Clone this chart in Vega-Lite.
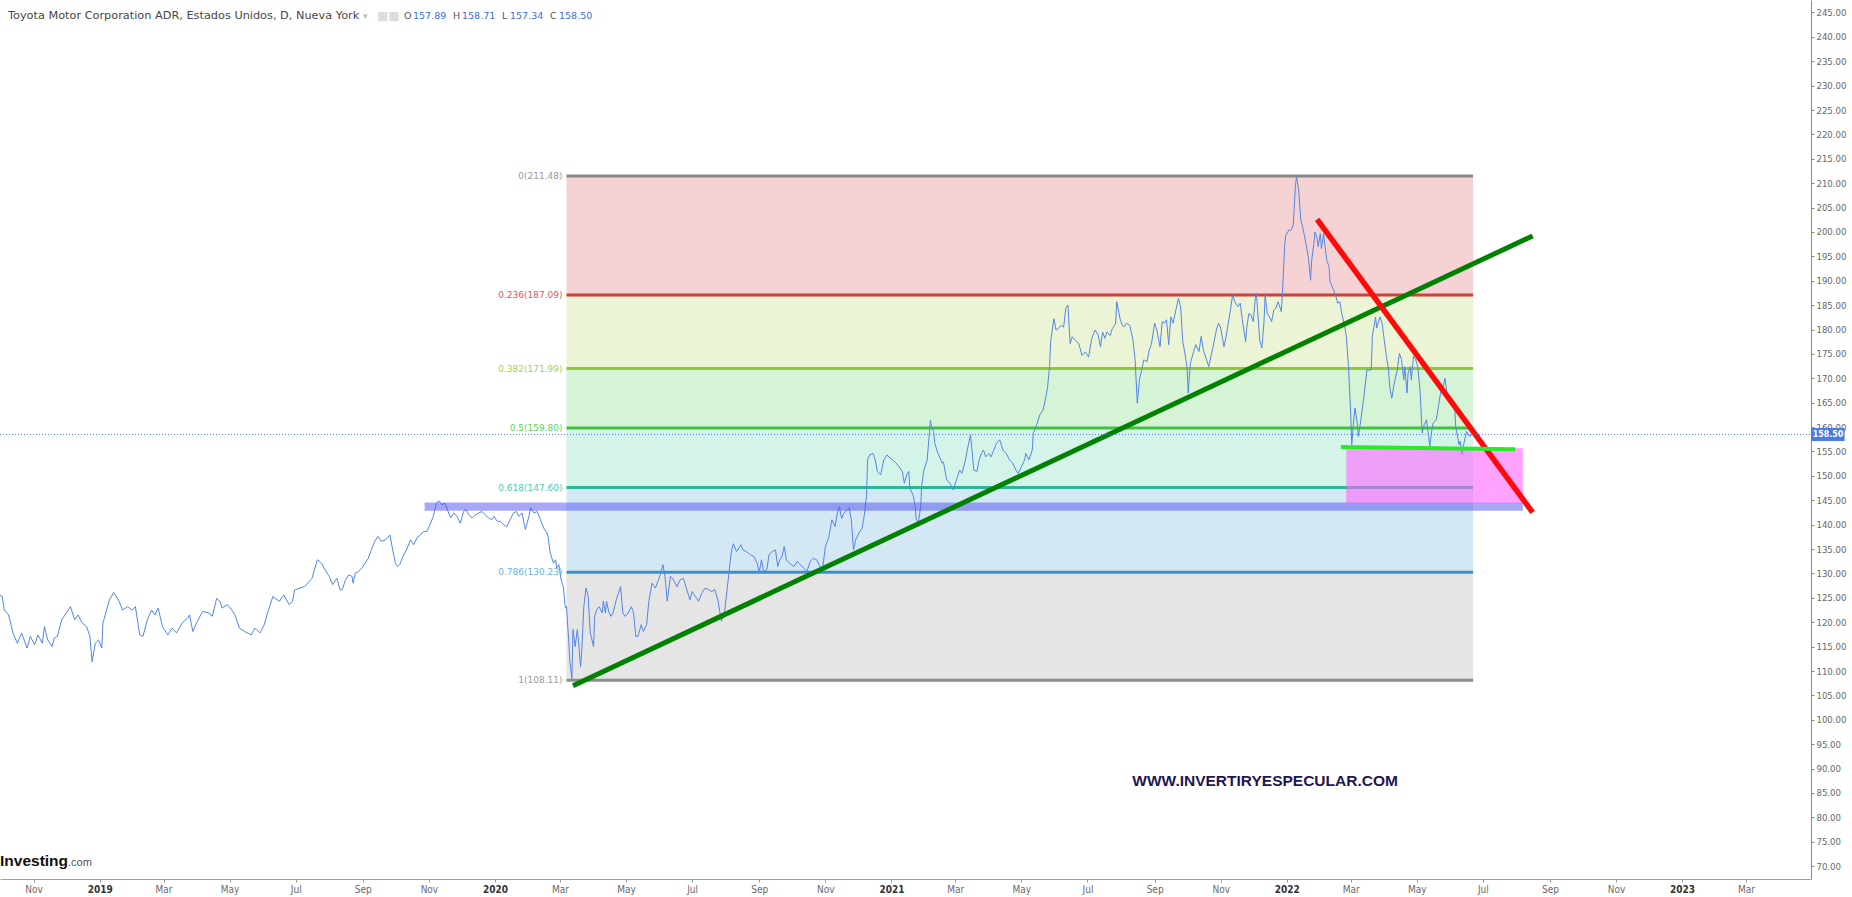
{
  "$schema": "https://vega.github.io/schema/vega-lite/v6.json",
  "width": 1811,
  "height": 879,
  "autosize": {"type": "none"},
  "padding": {"left": 0, "top": 0, "right": 41, "bottom": 18},
  "background": "white",
  "config": {"view": {"stroke": null}, "font": "DejaVu Sans"},
  "datasets": {
    "price": [
      {"d":"2018-10-01","v":125.5},{"d":"2018-10-03","v":125.3},{"d":"2018-10-05","v":122.5},{"d":"2018-10-09","v":121.5},{"d":"2018-10-13","v":117.8},{"d":"2018-10-17","v":115.7},{"d":"2018-10-21","v":117.8},{"d":"2018-10-26","v":114.7},{"d":"2018-10-29","v":117.1},{"d":"2018-11-02","v":115.4},{"d":"2018-11-05","v":117.4},{"d":"2018-11-09","v":115.7},{"d":"2018-11-11","v":119.1},{"d":"2018-11-14","v":116.4},{"d":"2018-11-18","v":115.0},{"d":"2018-11-20","v":116.7},{"d":"2018-11-23","v":117.1},{"d":"2018-11-27","v":120.5},{"d":"2018-11-30","v":121.5},{"d":"2018-12-05","v":123.2},{"d":"2018-12-09","v":120.5},{"d":"2018-12-12","v":121.5},{"d":"2018-12-16","v":119.8},{"d":"2018-12-20","v":119.1},{"d":"2018-12-23","v":117.1},{"d":"2018-12-25","v":111.9},{"d":"2018-12-28","v":115.7},{"d":"2018-12-31","v":116.4},
      {"d":"2019-01-03","v":114.7},{"d":"2019-01-04","v":119.8},{"d":"2019-01-10","v":124.6},{"d":"2019-01-14","v":126.1},{"d":"2019-01-19","v":124.3},{"d":"2019-01-22","v":122.5},{"d":"2019-01-27","v":123.2},{"d":"2019-01-31","v":122.5},{"d":"2019-02-03","v":123.2},{"d":"2019-02-07","v":117.4},{"d":"2019-02-10","v":117.1},{"d":"2019-02-14","v":120.5},{"d":"2019-02-18","v":122.5},{"d":"2019-02-21","v":121.5},{"d":"2019-02-24","v":122.9},{"d":"2019-02-28","v":119.1},{"d":"2019-03-05","v":117.4},{"d":"2019-03-09","v":118.8},{"d":"2019-03-13","v":117.8},{"d":"2019-03-18","v":119.8},{"d":"2019-03-23","v":120.8},{"d":"2019-03-25","v":121.5},{"d":"2019-03-28","v":118.1},{"d":"2019-04-01","v":120.1},{"d":"2019-04-06","v":122.2},{"d":"2019-04-12","v":121.9},{"d":"2019-04-15","v":121.2},{"d":"2019-04-19","v":124.9},{"d":"2019-04-22","v":124.3},{"d":"2019-04-24","v":122.9},{"d":"2019-04-29","v":123.6},{"d":"2019-05-03","v":122.5},{"d":"2019-05-06","v":121.5},{"d":"2019-05-10","v":118.8},{"d":"2019-05-15","v":118.1},{"d":"2019-05-21","v":117.4},{"d":"2019-05-24","v":118.8},{"d":"2019-05-29","v":117.8},{"d":"2019-06-02","v":119.5},{"d":"2019-06-05","v":121.9},{"d":"2019-06-10","v":125.3},{"d":"2019-06-12","v":124.9},{"d":"2019-06-16","v":124.3},{"d":"2019-06-20","v":125.6},{"d":"2019-06-25","v":123.6},{"d":"2019-06-28","v":124.3},{"d":"2019-06-30","v":126.6},{"d":"2019-07-05","v":127.0},{"d":"2019-07-09","v":127.3},{"d":"2019-07-12","v":128.0},{"d":"2019-07-16","v":129.0},{"d":"2019-07-21","v":132.8},{"d":"2019-07-25","v":132.1},{"d":"2019-07-28","v":130.7},{"d":"2019-08-01","v":129.4},{"d":"2019-08-04","v":127.7},{"d":"2019-08-08","v":129.0},{"d":"2019-08-11","v":126.6},
      {"d":"2019-08-13","v":126.7},{"d":"2019-08-16","v":128.7},{"d":"2019-08-19","v":129.7},{"d":"2019-08-22","v":129.4},{"d":"2019-08-23","v":128.0},{"d":"2019-08-25","v":130.1},{"d":"2019-08-28","v":130.4},{"d":"2019-08-31","v":131.1},{"d":"2019-09-03","v":132.1},{"d":"2019-09-06","v":133.1},{"d":"2019-09-09","v":134.9},{"d":"2019-09-12","v":136.6},{"d":"2019-09-15","v":137.6},{"d":"2019-09-18","v":136.6},{"d":"2019-09-22","v":136.9},{"d":"2019-09-26","v":137.9},{"d":"2019-09-28","v":135.5},{"d":"2019-10-01","v":132.1},{"d":"2019-10-03","v":131.4},{"d":"2019-10-05","v":131.8},{"d":"2019-10-08","v":133.5},{"d":"2019-10-12","v":135.2},{"d":"2019-10-15","v":136.9},{"d":"2019-10-18","v":135.9},{"d":"2019-10-21","v":137.3},{"d":"2019-10-24","v":137.9},{"d":"2019-10-27","v":138.6},{"d":"2019-10-30","v":138.6},{"d":"2019-11-02","v":140.0},{"d":"2019-11-05","v":141.7},{"d":"2019-11-08","v":144.4},{"d":"2019-11-10","v":144.9},{"d":"2019-11-13","v":144.1},{"d":"2019-11-16","v":144.4},{"d":"2019-11-18","v":143.1},{"d":"2019-11-21","v":141.4},{"d":"2019-11-24","v":142.4},{"d":"2019-11-27","v":141.7},{"d":"2019-11-30","v":140.3},{"d":"2019-12-03","v":142.7},{"d":"2019-12-05","v":143.1},{"d":"2019-12-08","v":142.0},{"d":"2019-12-11","v":141.4},{"d":"2019-12-14","v":142.0},{"d":"2019-12-17","v":142.4},{"d":"2019-12-20","v":142.7},{"d":"2019-12-23","v":142.0},{"d":"2019-12-26","v":141.4},{"d":"2019-12-29","v":141.0},{"d":"2019-12-31","v":141.7},
      {"d":"2020-01-03","v":140.7},{"d":"2020-01-06","v":140.7},{"d":"2020-01-09","v":140.0},{"d":"2020-01-12","v":139.6},{"d":"2020-01-15","v":141.0},{"d":"2020-01-18","v":142.4},{"d":"2020-01-21","v":142.7},{"d":"2020-01-23","v":141.7},{"d":"2020-01-26","v":142.4},{"d":"2020-01-29","v":139.0},{"d":"2020-02-01","v":141.4},{"d":"2020-02-03","v":143.4},{"d":"2020-02-06","v":142.4},{"d":"2020-02-09","v":142.7},{"d":"2020-02-12","v":141.0},{"d":"2020-02-15","v":139.3},{"d":"2020-02-18","v":138.3},{"d":"2020-02-19","v":137.6},{"d":"2020-02-21","v":134.2},{"d":"2020-02-24","v":132.1},{"d":"2020-02-26","v":132.8},{"d":"2020-02-27","v":131.1},{"d":"2020-02-29","v":131.8},{"d":"2020-03-02","v":128.7},{"d":"2020-03-04","v":127.3},{"d":"2020-03-06","v":122.9},{"d":"2020-03-07","v":123.2},{"d":"2020-03-09","v":116.4},{"d":"2020-03-10","v":112.3},{"d":"2020-03-12","v":108.4},{"d":"2020-03-13","v":118.5},{"d":"2020-03-15","v":115.0},{"d":"2020-03-17","v":118.5},{"d":"2020-03-18","v":116.4},{"d":"2020-03-20","v":110.9},{"d":"2020-03-21","v":113.7},{"d":"2020-03-23","v":123.2},{"d":"2020-03-25","v":127.0},{"d":"2020-03-27","v":125.3},{"d":"2020-03-29","v":117.8},{"d":"2020-04-01","v":115.0},{"d":"2020-04-02","v":121.2},{"d":"2020-04-04","v":122.6},{"d":"2020-04-06","v":123.2},{"d":"2020-04-09","v":121.9},{"d":"2020-04-10","v":124.3},{"d":"2020-04-12","v":121.9},{"d":"2020-04-13","v":124.3},{"d":"2020-04-15","v":122.2},{"d":"2020-04-17","v":121.2},{"d":"2020-04-19","v":121.9},{"d":"2020-04-22","v":124.6},{"d":"2020-04-26","v":127.3},{"d":"2020-04-28","v":121.9},{"d":"2020-04-30","v":121.2},{"d":"2020-05-03","v":121.9},{"d":"2020-05-06","v":123.2},{"d":"2020-05-08","v":121.9},{"d":"2020-05-10","v":117.1},{"d":"2020-05-12","v":117.1},{"d":"2020-05-15","v":119.5},{"d":"2020-05-17","v":118.1},{"d":"2020-05-20","v":119.5},{"d":"2020-05-22","v":124.3},{"d":"2020-05-25","v":128.0},{"d":"2020-05-28","v":127.0},{"d":"2020-05-31","v":128.7},{"d":"2020-06-02","v":130.1},{"d":"2020-06-04","v":131.8},{"d":"2020-06-06","v":129.4},{"d":"2020-06-08","v":124.3},{"d":"2020-06-11","v":129.4},{"d":"2020-06-13","v":129.0},{"d":"2020-06-17","v":127.3},{"d":"2020-06-20","v":128.7},{"d":"2020-06-23","v":129.0},{"d":"2020-06-26","v":126.7},{"d":"2020-06-29","v":124.6},{"d":"2020-07-01","v":126.3},{"d":"2020-07-04","v":125.3},{"d":"2020-07-07","v":124.3},{"d":"2020-07-10","v":126.0},{"d":"2020-07-13","v":127.0},{"d":"2020-07-16","v":126.7},{"d":"2020-07-19","v":126.3},{"d":"2020-07-22","v":126.7},{"d":"2020-07-25","v":124.3},{"d":"2020-07-28","v":120.2},{"d":"2020-07-31","v":122.2},{"d":"2020-08-04","v":130.1},{"d":"2020-08-06","v":134.2},{"d":"2020-08-08","v":136.1},{"d":"2020-08-11","v":134.5},{"d":"2020-08-14","v":135.5},
      {"d":"2020-08-15","v":135.9},{"d":"2020-08-17","v":134.8},{"d":"2020-08-20","v":134.5},{"d":"2020-08-24","v":133.8},{"d":"2020-08-27","v":133.5},{"d":"2020-08-30","v":132.1},{"d":"2020-09-01","v":130.1},{"d":"2020-09-03","v":132.8},{"d":"2020-09-05","v":130.4},{"d":"2020-09-08","v":130.8},{"d":"2020-09-10","v":133.8},{"d":"2020-09-13","v":134.5},{"d":"2020-09-16","v":134.8},{"d":"2020-09-18","v":131.4},{"d":"2020-09-20","v":132.8},{"d":"2020-09-22","v":133.5},{"d":"2020-09-24","v":135.5},{"d":"2020-09-26","v":132.8},{"d":"2020-09-29","v":132.1},{"d":"2020-10-03","v":131.4},{"d":"2020-10-06","v":132.5},{"d":"2020-10-09","v":131.8},{"d":"2020-10-12","v":131.1},{"d":"2020-10-15","v":130.4},{"d":"2020-10-18","v":132.5},{"d":"2020-10-21","v":133.1},{"d":"2020-10-24","v":132.8},{"d":"2020-10-27","v":131.4},{"d":"2020-10-29","v":130.1},{"d":"2020-11-01","v":135.5},{"d":"2020-11-04","v":137.2},{"d":"2020-11-07","v":141.0},{"d":"2020-11-10","v":139.6},{"d":"2020-11-12","v":142.3},{"d":"2020-11-14","v":143.7},{"d":"2020-11-16","v":141.3},{"d":"2020-11-18","v":142.3},{"d":"2020-11-21","v":143.0},{"d":"2020-11-23","v":143.4},{"d":"2020-11-25","v":141.0},{"d":"2020-11-27","v":134.8},{"d":"2020-11-29","v":136.9},{"d":"2020-12-02","v":138.3},{"d":"2020-12-05","v":139.3},{"d":"2020-12-07","v":142.0},{"d":"2020-12-09","v":145.8},{"d":"2020-12-10","v":153.3},{"d":"2020-12-12","v":154.3},{"d":"2020-12-15","v":154.6},{"d":"2020-12-17","v":153.3},{"d":"2020-12-19","v":150.9},{"d":"2020-12-22","v":150.2},{"d":"2020-12-25","v":153.3},{"d":"2020-12-28","v":154.3},{"d":"2020-12-31","v":153.6},
      {"d":"2021-01-02","v":153.3},{"d":"2021-01-05","v":152.7},{"d":"2021-01-08","v":151.9},{"d":"2021-01-11","v":150.9},{"d":"2021-01-13","v":148.5},{"d":"2021-01-15","v":150.2},{"d":"2021-01-17","v":150.9},{"d":"2021-01-18","v":147.5},{"d":"2021-01-21","v":146.1},{"d":"2021-01-23","v":143.7},{"d":"2021-01-24","v":141.0},{"d":"2021-01-26","v":140.6},{"d":"2021-01-28","v":143.7},{"d":"2021-01-29","v":148.1},{"d":"2021-01-31","v":151.2},{"d":"2021-02-03","v":153.3},{"d":"2021-02-05","v":158.7},{"d":"2021-02-06","v":161.4},{"d":"2021-02-07","v":160.1},{"d":"2021-02-09","v":159.1},{"d":"2021-02-10","v":156.7},{"d":"2021-02-13","v":154.6},{"d":"2021-02-17","v":152.6},{"d":"2021-02-18","v":152.9},{"d":"2021-02-21","v":149.2},{"d":"2021-02-24","v":148.5},{"d":"2021-02-27","v":147.1},{"d":"2021-03-02","v":149.2},{"d":"2021-03-05","v":151.2},{"d":"2021-03-07","v":150.5},{"d":"2021-03-10","v":152.9},{"d":"2021-03-12","v":155.3},{"d":"2021-03-15","v":158.4},{"d":"2021-03-17","v":153.9},{"d":"2021-03-18","v":151.2},{"d":"2021-03-21","v":150.9},{"d":"2021-03-23","v":153.3},{"d":"2021-03-25","v":154.6},{"d":"2021-03-27","v":155.3},{"d":"2021-03-29","v":153.9},{"d":"2021-04-01","v":154.6},{"d":"2021-04-03","v":153.9},{"d":"2021-04-05","v":155.0},{"d":"2021-04-08","v":156.7},{"d":"2021-04-11","v":157.4},{"d":"2021-04-14","v":155.3},{"d":"2021-04-17","v":154.6},{"d":"2021-04-20","v":153.3},{"d":"2021-04-23","v":152.6},{"d":"2021-04-26","v":151.2},{"d":"2021-04-28","v":150.5},{"d":"2021-05-01","v":151.9},{"d":"2021-05-04","v":153.3},{"d":"2021-05-05","v":154.6},{"d":"2021-05-08","v":153.3},{"d":"2021-05-11","v":155.3},{"d":"2021-05-12","v":158.7},{"d":"2021-05-15","v":160.4},{"d":"2021-05-18","v":162.5},{"d":"2021-05-21","v":163.5},{"d":"2021-05-23","v":165.5},{"d":"2021-05-25","v":167.9},{"d":"2021-05-27","v":172.4},{"d":"2021-05-28","v":177.5},{"d":"2021-05-31","v":182.2},{"d":"2021-06-02","v":179.9},{"d":"2021-06-04","v":180.2},{"d":"2021-06-07","v":180.9},{"d":"2021-06-09","v":180.5},{"d":"2021-06-11","v":184.3},{"d":"2021-06-13","v":185.0},{"d":"2021-06-15","v":177.1},{"d":"2021-06-17","v":178.5},{"d":"2021-06-20","v":177.8},{"d":"2021-06-23","v":177.1},{"d":"2021-06-26","v":174.7},{"d":"2021-06-29","v":175.4},{"d":"2021-07-02","v":174.4},{"d":"2021-07-05","v":178.2},{"d":"2021-07-08","v":179.9},{"d":"2021-07-11","v":178.8},{"d":"2021-07-13","v":176.5},{"d":"2021-07-15","v":179.5},{"d":"2021-07-17","v":178.2},{"d":"2021-07-19","v":179.5},{"d":"2021-07-22","v":178.8},{"d":"2021-07-24","v":180.2},{"d":"2021-07-27","v":181.2},{"d":"2021-07-28","v":185.7},{"d":"2021-07-31","v":182.3},
      {"d":"2021-08-02","v":180.9},{"d":"2021-08-04","v":180.6},{"d":"2021-08-06","v":181.3},{"d":"2021-08-09","v":180.9},{"d":"2021-08-12","v":177.9},{"d":"2021-08-14","v":173.8},{"d":"2021-08-16","v":164.9},{"d":"2021-08-18","v":169.7},{"d":"2021-08-20","v":171.7},{"d":"2021-08-22","v":173.8},{"d":"2021-08-25","v":173.4},{"d":"2021-08-27","v":175.8},{"d":"2021-08-29","v":176.9},{"d":"2021-09-01","v":181.3},{"d":"2021-09-03","v":179.9},{"d":"2021-09-06","v":176.5},{"d":"2021-09-08","v":181.6},{"d":"2021-09-10","v":181.3},{"d":"2021-09-12","v":182.0},{"d":"2021-09-14","v":176.9},{"d":"2021-09-16","v":182.6},{"d":"2021-09-18","v":181.3},{"d":"2021-09-21","v":184.4},{"d":"2021-09-23","v":186.4},{"d":"2021-09-25","v":184.7},{"d":"2021-09-27","v":177.5},{"d":"2021-09-29","v":175.1},{"d":"2021-10-01","v":172.1},{"d":"2021-10-02","v":167.0},{"d":"2021-10-04","v":173.1},{"d":"2021-10-07","v":175.5},{"d":"2021-10-09","v":176.9},{"d":"2021-10-12","v":175.5},{"d":"2021-10-14","v":178.6},{"d":"2021-10-16","v":175.8},{"d":"2021-10-19","v":173.8},{"d":"2021-10-21","v":172.4},{"d":"2021-10-23","v":174.5},{"d":"2021-10-25","v":176.5},{"d":"2021-10-28","v":179.9},{"d":"2021-10-30","v":181.3},{"d":"2021-11-01","v":180.3},{"d":"2021-11-04","v":176.5},{"d":"2021-11-06","v":178.6},{"d":"2021-11-08","v":181.3},{"d":"2021-11-10","v":184.0},{"d":"2021-11-12","v":187.1},{"d":"2021-11-14","v":185.7},{"d":"2021-11-17","v":184.7},{"d":"2021-11-19","v":185.4},{"d":"2021-11-21","v":182.0},{"d":"2021-11-24","v":177.5},{"d":"2021-11-25","v":180.3},{"d":"2021-11-27","v":183.3},{"d":"2021-11-29","v":183.0},{"d":"2021-12-01","v":181.6},{"d":"2021-12-03","v":186.4},{"d":"2021-12-04","v":187.4},{"d":"2021-12-07","v":177.9},{"d":"2021-12-09","v":176.2},{"d":"2021-12-11","v":181.6},{"d":"2021-12-12","v":187.1},{"d":"2021-12-14","v":183.3},{"d":"2021-12-16","v":182.6},{"d":"2021-12-18","v":181.6},{"d":"2021-12-20","v":184.0},{"d":"2021-12-22","v":184.4},{"d":"2021-12-24","v":185.7},{"d":"2021-12-27","v":183.7},{"d":"2021-12-28","v":187.4},{"d":"2021-12-30","v":197.0},{"d":"2021-12-31","v":199.3},
      {"d":"2022-01-03","v":200.4},{"d":"2022-01-05","v":200.4},{"d":"2022-01-07","v":201.4},{"d":"2022-01-09","v":209.6},{"d":"2022-01-10","v":211.3},{"d":"2022-01-12","v":208.6},{"d":"2022-01-14","v":202.4},{"d":"2022-01-16","v":200.7},{"d":"2022-01-19","v":197.3},{"d":"2022-01-21","v":194.6},{"d":"2022-01-23","v":190.1},{"d":"2022-01-24","v":194.2},{"d":"2022-01-26","v":197.6},{"d":"2022-01-27","v":200.0},{"d":"2022-01-29","v":198.7},{"d":"2022-01-30","v":197.0},{"d":"2022-02-01","v":199.7},{"d":"2022-02-02","v":196.6},{"d":"2022-02-04","v":199.7},{"d":"2022-02-05","v":197.6},{"d":"2022-02-07","v":194.2},{"d":"2022-02-09","v":192.9},{"d":"2022-02-10","v":189.8},{"d":"2022-02-12","v":188.8},{"d":"2022-02-15","v":187.1},{"d":"2022-02-17","v":185.4},{"d":"2022-02-19","v":185.7},{"d":"2022-02-21","v":183.0},{"d":"2022-02-23","v":181.3},{"d":"2022-02-25","v":178.6},{"d":"2022-02-27","v":172.4},{"d":"2022-03-01","v":162.9},{"d":"2022-03-02","v":156.4},{"d":"2022-03-04","v":161.9},{"d":"2022-03-05","v":163.9},{"d":"2022-03-07","v":160.8},{"d":"2022-03-08","v":158.1},{"d":"2022-03-10","v":160.8},{"d":"2022-03-13","v":165.9},{"d":"2022-03-16","v":171.7},{"d":"2022-03-20","v":171.7},{"d":"2022-03-21","v":178.6},{"d":"2022-03-24","v":182.6},{"d":"2022-03-25","v":180.3},{"d":"2022-03-28","v":182.6},{"d":"2022-03-30","v":181.3},{"d":"2022-04-01","v":177.9},{"d":"2022-04-03","v":174.5},{"d":"2022-04-05","v":171.7},{"d":"2022-04-06","v":168.3},{"d":"2022-04-08","v":165.9},{"d":"2022-04-10","v":168.7},{"d":"2022-04-13","v":171.7},{"d":"2022-04-15","v":175.1},{"d":"2022-04-17","v":173.8},{"d":"2022-04-19","v":169.7},{"d":"2022-04-20","v":172.4},{"d":"2022-04-22","v":167.0},{"d":"2022-04-23","v":171.1},{"d":"2022-04-25","v":172.4},{"d":"2022-04-26","v":169.7},{"d":"2022-04-28","v":174.5},{"d":"2022-04-30","v":173.8},{"d":"2022-05-02","v":172.4},{"d":"2022-05-04","v":167.6},{"d":"2022-05-06","v":158.8},{"d":"2022-05-08","v":160.5},{"d":"2022-05-10","v":161.5},{"d":"2022-05-12","v":158.1},{"d":"2022-05-13","v":156.1},{"d":"2022-05-15","v":159.5},{"d":"2022-05-16","v":160.8},{"d":"2022-05-19","v":161.5},{"d":"2022-05-21","v":164.2},{"d":"2022-05-23","v":167.0},{"d":"2022-05-25","v":167.6},{"d":"2022-05-27","v":170.0},{"d":"2022-05-29","v":167.0},{"d":"2022-05-31","v":165.6},{"d":"2022-06-02","v":164.9},{"d":"2022-06-05","v":164.2},{"d":"2022-06-06","v":160.1},{"d":"2022-06-09","v":156.4},{"d":"2022-06-10","v":157.1},{"d":"2022-06-12","v":154.4},{"d":"2022-06-13","v":156.1},{"d":"2022-06-15","v":158.1},{"d":"2022-06-16","v":159.1},{"d":"2022-06-19","v":158.1},{"d":"2022-06-21","v":158.5}
    ],
    "fibBands": [
      {"tramo":"0-0.236","d":"2020-03-07","d2":"2022-06-22","v":211.48,"v2":187.09},
      {"tramo":"0.236-0.382","d":"2020-03-07","d2":"2022-06-22","v":187.09,"v2":171.99},
      {"tramo":"0.382-0.5","d":"2020-03-07","d2":"2022-06-22","v":171.99,"v2":159.80},
      {"tramo":"0.5-0.618","d":"2020-03-07","d2":"2022-06-22","v":159.80,"v2":147.60},
      {"tramo":"0.618-0.786","d":"2020-03-07","d2":"2022-06-22","v":147.60,"v2":130.23},
      {"tramo":"0.786-1","d":"2020-03-07","d2":"2022-06-22","v":130.23,"v2":108.11}
    ],
    "fibLevels": [
      {"nivel":"0","lab":"0(211.48)","d":"2020-03-07","d2":"2022-06-22","v":211.48},
      {"nivel":"0.236","lab":"0.236(187.09)","d":"2020-03-07","d2":"2022-06-22","v":187.09},
      {"nivel":"0.382","lab":"0.382(171.99)","d":"2020-03-07","d2":"2022-06-22","v":171.99},
      {"nivel":"0.5","lab":"0.5(159.80)","d":"2020-03-07","d2":"2022-06-22","v":159.80},
      {"nivel":"0.618","lab":"0.618(147.60)","d":"2020-03-07","d2":"2022-06-22","v":147.60},
      {"nivel":"0.786","lab":"0.786(130.23)","d":"2020-03-07","d2":"2022-06-22","v":130.23},
      {"nivel":"1","lab":"1(108.11)","d":"2020-03-07","d2":"2022-06-22","v":108.11}
    ],
    "zones": [
      {"zona":"resistencia","d":"2019-10-28","d2":"2022-08-07","v":144.56,"v2":142.85},
      {"zona":"caja","d":"2022-02-25","d2":"2022-08-07","v":155.66,"v2":144.38}
    ],
    "trend": [
      {"linea":"alcista","d":"2020-03-13","v":107.0,"d2":"2022-08-16","v2":199.2},
      {"linea":"bajista","d":"2022-01-29","v":202.6,"d2":"2022-08-16","v2":142.5},
      {"linea":"soporte","d":"2022-02-20","v":155.9,"d2":"2022-07-31","v2":155.45}
    ],
    "last": [{"v":158.5}],
    "ohlc": [
      {"k":"O","val":"157.89"},{"k":"H","val":"158.71"},{"k":"L","val":"157.34"},{"k":"C","val":"158.50"}
    ],
    "one": [{}]
  },
  "layer": [
    {
      "encoding": {
        "x": {
          "field": "d", "type": "temporal",
          "scale": {"type": "utc", "domain": [{"year":2018,"month":10,"date":1,"utc":true},{"year":2023,"month":4,"date":30,"utc":true}], "nice": false},
          "axis": {
            "title": null, "orient": "bottom", "grid": false,
            "values": [
              {"year":2018,"month":11,"date":1,"utc":true},{"year":2019,"month":1,"date":1,"utc":true},{"year":2019,"month":3,"date":1,"utc":true},{"year":2019,"month":5,"date":1,"utc":true},{"year":2019,"month":7,"date":1,"utc":true},{"year":2019,"month":9,"date":1,"utc":true},{"year":2019,"month":11,"date":1,"utc":true},
              {"year":2020,"month":1,"date":1,"utc":true},{"year":2020,"month":3,"date":1,"utc":true},{"year":2020,"month":5,"date":1,"utc":true},{"year":2020,"month":7,"date":1,"utc":true},{"year":2020,"month":9,"date":1,"utc":true},{"year":2020,"month":11,"date":1,"utc":true},
              {"year":2021,"month":1,"date":1,"utc":true},{"year":2021,"month":3,"date":1,"utc":true},{"year":2021,"month":5,"date":1,"utc":true},{"year":2021,"month":7,"date":1,"utc":true},{"year":2021,"month":9,"date":1,"utc":true},{"year":2021,"month":11,"date":1,"utc":true},
              {"year":2022,"month":1,"date":1,"utc":true},{"year":2022,"month":3,"date":1,"utc":true},{"year":2022,"month":5,"date":1,"utc":true},{"year":2022,"month":7,"date":1,"utc":true},{"year":2022,"month":9,"date":1,"utc":true},{"year":2022,"month":11,"date":1,"utc":true},
              {"year":2023,"month":1,"date":1,"utc":true},{"year":2023,"month":3,"date":1,"utc":true}
            ],
            "labelExpr": "utcFormat(datum.value, '%m') == '01' ? utcFormat(datum.value, '%Y') : utcFormat(datum.value, '%b')",
            "labelFont": "DejaVu Sans Condensed, sans-serif",
            "labelFontSize": 10,
            "labelColor": {"condition": {"test": "utcFormat(datum.value, '%m') == '01'", "value": "#333333"}, "value": "#6a6a6a"},
            "labelFontWeight": {"condition": {"test": "utcFormat(datum.value, '%m') == '01'", "value": "bold"}, "value": "normal"},
            "labelPadding": 2, "tickSize": 3, "tickColor": "#999999",
            "domainColor": "#a0a0a0", "labelFlush": false, "labelOverlap": false
          }
        },
        "y": {
          "field": "v", "type": "quantitative",
          "scale": {"domain": [67.36, 247.56], "nice": false, "zero": false},
          "axis": {
            "title": null, "orient": "right", "grid": false,
            "values": [70,75,80,85,90,95,100,105,110,115,120,125,130,135,140,145,150,155,160,165,170,175,180,185,190,195,200,205,210,215,220,225,230,235,240,245],
            "format": ".2f",
            "labelFont": "DejaVu Sans Condensed, sans-serif",
            "labelFontSize": 9.5, "labelColor": "#666666",
            "labelPadding": 2, "tickSize": 3, "tickColor": "#8a8a8a",
            "domainColor": "#8a8a8a", "labelOverlap": false, "labelFlush": false
          }
        }
      },
      "layer": [
        {
          "data": {"name": "fibBands"},
          "mark": {"type": "rect", "opacity": 1},
          "encoding": {
            "x2": {"field": "d2"}, "y2": {"field": "v2"},
            "fill": {"field": "tramo", "type": "nominal", "legend": null,
              "scale": {"domain": ["0-0.236","0.236-0.382","0.382-0.5","0.5-0.618","0.618-0.786","0.786-1"],
                        "range": ["#f5d3d4","#ebf5d5","#d5f3d5","#d4f4ea","#d3e8f3","#e5e5e5"]}}
          }
        },
        {
          "data": {"name": "fibLevels"},
          "mark": {"type": "rule", "strokeWidth": 3},
          "encoding": {
            "x2": {"field": "d2"},
            "stroke": {"field": "nivel", "type": "nominal", "legend": null,
              "scale": {"domain": ["0","0.236","0.382","0.5","0.618","0.786","1"],
                        "range": ["#8c8787","#cf413a","#8fc73e","#43c143","#2cb596","#3e8fc7","#8c8c8c"]}}
          }
        },
        {
          "data": {"name": "fibLevels"},
          "mark": {"type": "text", "align": "right", "baseline": "middle", "dx": -4, "font": "DejaVu Sans", "fontSize": 9},
          "encoding": {
            "text": {"field": "lab"},
            "color": {"field": "nivel", "type": "nominal", "legend": null,
              "scale": {"domain": ["0","0.236","0.382","0.5","0.618","0.786","1"],
                        "range": ["#9a9a9a","#e05858","#a6cf48","#62d462","#48d0aa","#62b6e4","#9a9a9a"]}}
          }
        },
        {
          "data": {"name": "price"},
          "mark": {"type": "line", "color": "#5486e6", "strokeWidth": 1},
          "encoding": {}
        },
        {
          "data": {"name": "zones"},
          "transform": [{"filter": "datum.zona == 'resistencia'"}],
          "mark": {"type": "rect", "color": "#5050f0", "opacity": 0.5},
          "encoding": {"x2": {"field": "d2"}, "y2": {"field": "v2"}}
        },
        {
          "data": {"name": "zones"},
          "transform": [{"filter": "datum.zona == 'caja'"}],
          "mark": {"type": "rect", "color": "#ff66ff", "opacity": 0.6},
          "encoding": {"x2": {"field": "d2"}, "y2": {"field": "v2"}}
        },
        {
          "data": {"name": "trend"},
          "transform": [{"filter": "datum.linea == 'alcista'"}],
          "mark": {"type": "rule", "color": "#008200", "strokeWidth": 5},
          "encoding": {"x2": {"field": "d2"}, "y2": {"field": "v2"}}
        },
        {
          "data": {"name": "trend"},
          "transform": [{"filter": "datum.linea == 'bajista'"}],
          "mark": {"type": "rule", "color": "#ff0a0a", "strokeWidth": 5.5},
          "encoding": {"x2": {"field": "d2"}, "y2": {"field": "v2"}}
        },
        {
          "data": {"name": "trend"},
          "transform": [{"filter": "datum.linea == 'soporte'"}],
          "mark": {"type": "rule", "color": "#2be82b", "strokeWidth": 4},
          "encoding": {"x2": {"field": "d2"}, "y2": {"field": "v2"}}
        }
      ]
    },
    {
      "encoding": {
        "x": {
          "type": "temporal",
          "scale": {"type": "utc", "domain": [{"year":2018,"month":10,"date":1,"utc":true},{"year":2023,"month":4,"date":30,"utc":true}], "nice": false},
          "axis": {
            "title": null, "orient": "bottom", "grid": false,
            "values": [
              {"year":2018,"month":11,"date":1,"utc":true},{"year":2019,"month":1,"date":1,"utc":true},{"year":2019,"month":3,"date":1,"utc":true},{"year":2019,"month":5,"date":1,"utc":true},{"year":2019,"month":7,"date":1,"utc":true},{"year":2019,"month":9,"date":1,"utc":true},{"year":2019,"month":11,"date":1,"utc":true},
              {"year":2020,"month":1,"date":1,"utc":true},{"year":2020,"month":3,"date":1,"utc":true},{"year":2020,"month":5,"date":1,"utc":true},{"year":2020,"month":7,"date":1,"utc":true},{"year":2020,"month":9,"date":1,"utc":true},{"year":2020,"month":11,"date":1,"utc":true},
              {"year":2021,"month":1,"date":1,"utc":true},{"year":2021,"month":3,"date":1,"utc":true},{"year":2021,"month":5,"date":1,"utc":true},{"year":2021,"month":7,"date":1,"utc":true},{"year":2021,"month":9,"date":1,"utc":true},{"year":2021,"month":11,"date":1,"utc":true},
              {"year":2022,"month":1,"date":1,"utc":true},{"year":2022,"month":3,"date":1,"utc":true},{"year":2022,"month":5,"date":1,"utc":true},{"year":2022,"month":7,"date":1,"utc":true},{"year":2022,"month":9,"date":1,"utc":true},{"year":2022,"month":11,"date":1,"utc":true},
              {"year":2023,"month":1,"date":1,"utc":true},{"year":2023,"month":3,"date":1,"utc":true}
            ],
            "labelExpr": "utcFormat(datum.value, '%m') == '01' ? utcFormat(datum.value, '%Y') : utcFormat(datum.value, '%b')",
            "labelFont": "DejaVu Sans Condensed, sans-serif",
            "labelFontSize": 10,
            "labelColor": {"condition": {"test": "utcFormat(datum.value, '%m') == '01'", "value": "#333333"}, "value": "#6a6a6a"},
            "labelFontWeight": {"condition": {"test": "utcFormat(datum.value, '%m') == '01'", "value": "bold"}, "value": "normal"},
            "labelPadding": 2, "tickSize": 3, "tickColor": "#999999",
            "domainColor": "#a0a0a0", "labelFlush": false, "labelOverlap": false
          }
        },
        "y": {
          "type": "quantitative",
          "scale": {"domain": [67.36, 247.56], "nice": false, "zero": false},
          "axis": {
            "title": null, "orient": "right", "grid": false,
            "values": [70,75,80,85,90,95,100,105,110,115,120,125,130,135,140,145,150,155,160,165,170,175,180,185,190,195,200,205,210,215,220,225,230,235,240,245],
            "format": ".2f",
            "labelFont": "DejaVu Sans Condensed, sans-serif",
            "labelFontSize": 9.5, "labelColor": "#666666",
            "labelPadding": 2, "tickSize": 3, "tickColor": "#8a8a8a",
            "domainColor": "#8a8a8a", "labelOverlap": false, "labelFlush": false
          }
        }
      },
      "layer": [
        {
          "data": {"name": "last"},
          "mark": {"type": "rule", "color": "#4f7fe6", "strokeWidth": 1, "strokeDash": [1, 2]},
          "encoding": {
            "x": {"datum": {"year":2018,"month":10,"date":1,"utc":true}},
            "x2": {"datum": {"year":2023,"month":4,"date":30,"utc":true}},
            "y": {"field": "v"}
          }
        },
        {
          "data": {"name": "last"},
          "mark": {"type": "rule", "color": "#4a7ae8", "strokeWidth": 13},
          "encoding": {
            "x": {"datum": {"year":2023,"month":4,"date":30,"utc":true}},
            "x2": {"datum": {"year":2023,"month":5,"date":31,"utc":true}},
            "y": {"field": "v"}
          }
        },
        {
          "data": {"name": "last"},
          "mark": {"type": "text", "align": "center", "baseline": "middle", "dx": 17, "color": "white", "font": "DejaVu Sans Condensed, sans-serif", "fontSize": 8.8, "fontWeight": "bold"},
          "encoding": {
            "x": {"datum": {"year":2023,"month":4,"date":30,"utc":true}},
            "y": {"field": "v"},
            "text": {"field": "v", "format": ".2f"}
          }
        },
        {
          "data": {"name": "one"},
          "mark": {"type": "text", "align": "left", "baseline": "middle", "dx": 8, "color": "#474747", "font": "DejaVu Sans", "fontSize": 11.3},
          "encoding": {
            "x": {"datum": {"year":2018,"month":10,"date":1,"utc":true}},
            "y": {"datum": 244.3},
            "text": {"value": "Toyota Motor Corporation ADR, Estados Unidos, D, Nueva York"}
          }
        },
        {
          "data": {"name": "one"},
          "mark": {"type": "text", "align": "left", "baseline": "middle", "dx": 363, "color": "#bbbbbb", "font": "DejaVu Sans", "fontSize": 9},
          "encoding": {
            "x": {"datum": {"year":2018,"month":10,"date":1,"utc":true}},
            "y": {"datum": 244.3},
            "text": {"value": "▾"}
          }
        },
        {
          "data": {"name": "one"},
          "mark": {"type": "text", "align": "left", "baseline": "middle", "dx": 377, "color": "#dddddd", "font": "DejaVu Sans", "fontSize": 12},
          "encoding": {
            "x": {"datum": {"year":2018,"month":10,"date":1,"utc":true}},
            "y": {"datum": 244.3},
            "text": {"value": "■■"}
          }
        },
        {
          "data": {"name": "ohlc"},
          "transform": [{"filter": "datum.k == 'O'"}],
          "layer": [
            {"mark": {"type": "text", "align": "left", "baseline": "middle", "dx": 404, "color": "#555555", "font": "DejaVu Sans", "fontSize": 9.5},
             "encoding": {"x": {"datum": {"year":2018,"month":10,"date":1,"utc":true}}, "y": {"datum": 244.3}, "text": {"field": "k"}}},
            {"mark": {"type": "text", "align": "left", "baseline": "middle", "dx": 413, "color": "#3b6fd8", "font": "DejaVu Sans", "fontSize": 9.5},
             "encoding": {"x": {"datum": {"year":2018,"month":10,"date":1,"utc":true}}, "y": {"datum": 244.3}, "text": {"field": "val"}}}
          ]
        },
        {
          "data": {"name": "ohlc"},
          "transform": [{"filter": "datum.k == 'H'"}],
          "layer": [
            {"mark": {"type": "text", "align": "left", "baseline": "middle", "dx": 453, "color": "#555555", "font": "DejaVu Sans", "fontSize": 9.5},
             "encoding": {"x": {"datum": {"year":2018,"month":10,"date":1,"utc":true}}, "y": {"datum": 244.3}, "text": {"field": "k"}}},
            {"mark": {"type": "text", "align": "left", "baseline": "middle", "dx": 462, "color": "#3b6fd8", "font": "DejaVu Sans", "fontSize": 9.5},
             "encoding": {"x": {"datum": {"year":2018,"month":10,"date":1,"utc":true}}, "y": {"datum": 244.3}, "text": {"field": "val"}}}
          ]
        },
        {
          "data": {"name": "ohlc"},
          "transform": [{"filter": "datum.k == 'L'"}],
          "layer": [
            {"mark": {"type": "text", "align": "left", "baseline": "middle", "dx": 502, "color": "#555555", "font": "DejaVu Sans", "fontSize": 9.5},
             "encoding": {"x": {"datum": {"year":2018,"month":10,"date":1,"utc":true}}, "y": {"datum": 244.3}, "text": {"field": "k"}}},
            {"mark": {"type": "text", "align": "left", "baseline": "middle", "dx": 510, "color": "#3b6fd8", "font": "DejaVu Sans", "fontSize": 9.5},
             "encoding": {"x": {"datum": {"year":2018,"month":10,"date":1,"utc":true}}, "y": {"datum": 244.3}, "text": {"field": "val"}}}
          ]
        },
        {
          "data": {"name": "ohlc"},
          "transform": [{"filter": "datum.k == 'C'"}],
          "layer": [
            {"mark": {"type": "text", "align": "left", "baseline": "middle", "dx": 550, "color": "#555555", "font": "DejaVu Sans", "fontSize": 9.5},
             "encoding": {"x": {"datum": {"year":2018,"month":10,"date":1,"utc":true}}, "y": {"datum": 244.3}, "text": {"field": "k"}}},
            {"mark": {"type": "text", "align": "left", "baseline": "middle", "dx": 559, "color": "#3b6fd8", "font": "DejaVu Sans", "fontSize": 9.5},
             "encoding": {"x": {"datum": {"year":2018,"month":10,"date":1,"utc":true}}, "y": {"datum": 244.3}, "text": {"field": "val"}}}
          ]
        },
        {
          "data": {"name": "one"},
          "mark": {"type": "text", "align": "center", "baseline": "middle", "color": "#1f1650", "font": "Liberation Sans", "fontSize": 15.5, "fontWeight": "bold"},
          "encoding": {
            "x": {"datum": {"year":2021,"month":12,"date":12,"utc":true}},
            "y": {"datum": 87.5},
            "text": {"value": "WWW.INVERTIRYESPECULAR.COM"}
          }
        },
        {
          "data": {"name": "one"},
          "mark": {"type": "text", "align": "left", "baseline": "alphabetic", "dx": 0, "color": "#111111", "font": "Liberation Sans", "fontSize": 15.5, "fontWeight": "bold"},
          "encoding": {
            "x": {"datum": {"year":2018,"month":10,"date":1,"utc":true}},
            "y": {"datum": 70.0},
            "text": {"value": "Investing"}
          }
        },
        {
          "data": {"name": "one"},
          "mark": {"type": "text", "align": "left", "baseline": "alphabetic", "dx": 68, "color": "#555555", "font": "Liberation Sans", "fontSize": 11},
          "encoding": {
            "x": {"datum": {"year":2018,"month":10,"date":1,"utc":true}},
            "y": {"datum": 70.0},
            "text": {"value": ".com"}
          }
        }
      ]
    }
  ]
}
